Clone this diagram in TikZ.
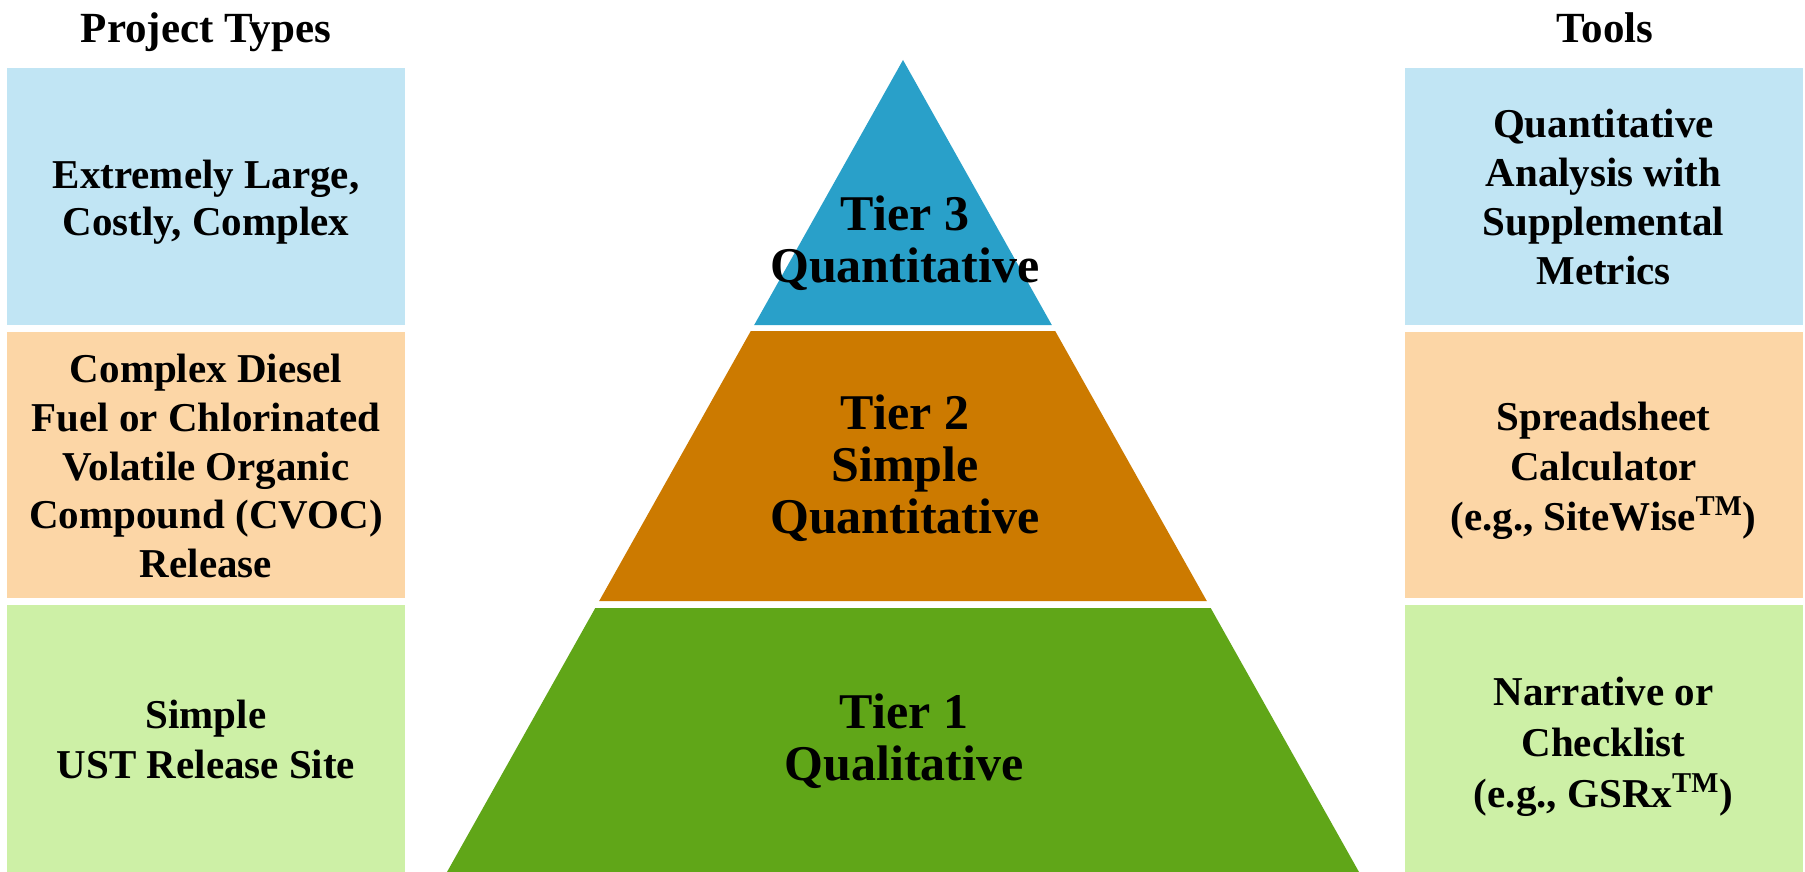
\documentclass[tikz,border=0pt]{standalone}
\usepackage{fontspec}
\setmainfont{Liberation Serif}
% invisible struts fixing the height of the first line and the depth of the last
\newcommand\tzTopA{\rule{0pt}{16pt}}
\newcommand\tzBotA{\rule[-6pt]{0pt}{6pt}}
\newcommand\tzTopB{\rule{0pt}{20pt}}
\newcommand\tzBotB{\rule[-7pt]{0pt}{7pt}}
\begin{document}
\definecolor{lblue}{RGB}{193,229,244}
\definecolor{lorange}{RGB}{252,214,166}
\definecolor{lgreen}{RGB}{205,240,166}
\definecolor{tblue}{RGB}{41,160,201}
\definecolor{torange}{RGB}{204,122,0}
\definecolor{tgreen}{RGB}{96,166,24}
\begin{tikzpicture}[x=0.5pt,y=-0.5pt,
  box/.style={draw=none,inner sep=0pt,minimum width=199pt},
  boxtext/.style={inner sep=0pt,anchor=north,align=center,
    font=\fontsize{20.5pt}{#1}\selectfont\bfseries},
  boxtext/.default=24.25pt,
  tiertext/.style={inner sep=0pt,anchor=north,align=center,
    font=\fontsize{25pt}{26pt}\selectfont\bfseries},
  heading/.style={inner sep=0pt,anchor=base,
    font=\fontsize{21.5pt}{26pt}\selectfont\bfseries}]
\useasboundingbox (0,0) rectangle (1805,872);
\fill[white] (0,0) rectangle (1805,872);

% column headings
\node[heading] (hproj) at (206,43) {Project Types};
\node[heading] (htools) at (1605,43) {Tools};

% project types (left column)
\node[box,fill=lblue,minimum height=128.5pt] (p3) at (206,196.5) {};
\node[box,fill=lorange,minimum height=133pt] (p2) at (206,465) {};
\node[box,fill=lgreen,minimum height=133.5pt] (p1) at (206,738.5) {};
\node[boxtext=23.5pt] (p3t) at (206,156)
  {\tzTopA Extremely Large,\\Costly, Complex\tzBotA};
\node[boxtext=24.4pt] (p2t) at (206,350)
  {\tzTopA Complex Diesel\\Fuel or Chlorinated\\Volatile Organic\\Compound (CVOC)\\Release\tzBotA};
\node[boxtext=25pt] (p1t) at (206,696)
  {\tzTopA Simple\\UST Release Site\tzBotA};

% tools (right column)
\node[box,fill=lblue,minimum height=128.5pt] (t3) at (1603.5,196.5) {};
\node[box,fill=lorange,minimum height=133pt] (t2) at (1603.5,465) {};
\node[box,fill=lgreen,minimum height=133.5pt] (t1) at (1603.5,738.5) {};
\node[boxtext=24.5pt] (t3t) at (1603.5,105)
  {\tzTopA Quantitative\\Analysis with\\Supplemental\\Metrics\tzBotA};
\node[boxtext=25pt] (t2t) at (1603.5,398)
  {\tzTopA Spreadsheet\\Calculator\\(e.g., SiteWise\textsuperscript{TM})\tzBotA};
\node[boxtext=25.5pt] (t1t) at (1603.5,673)
  {\tzTopA Narrative or\\Checklist\\(e.g., GSRx\textsuperscript{TM})\tzBotA};

% pyramid tiers
\fill[tblue] (903,60) -- (1051.8,325) -- (754.2,325) -- cycle;
\fill[torange] (750.8,331) -- (1055.2,331) -- (1206.8,601) -- (599.2,601) -- cycle;
\fill[tgreen] (595.3,608) -- (1210.7,608) -- (1359,872) -- (447,872) -- cycle;

\node[tiertext] (tier3) at (905,190) {\tzTopB Tier 3\\Quantitative\tzBotB};
\node[tiertext] (tier2) at (905,389) {\tzTopB Tier 2\\Simple\\Quantitative\tzBotB};
\node[tiertext] (tier1) at (904,688) {\tzTopB Tier 1\\Qualitative\tzBotB};
\end{tikzpicture}
\end{document}
